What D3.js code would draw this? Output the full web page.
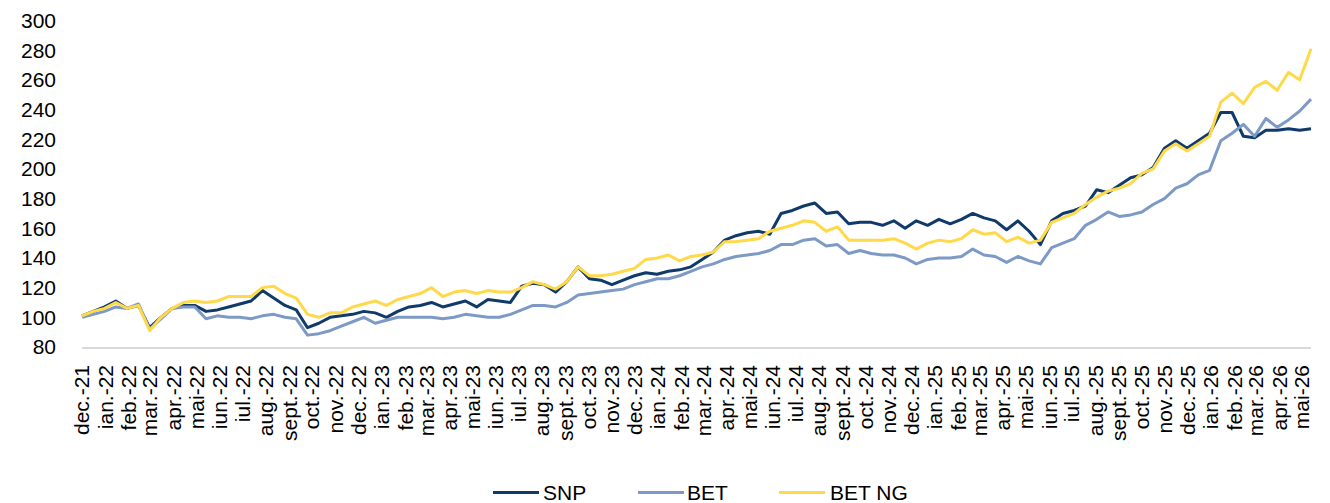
<!DOCTYPE html>
<html>
<head>
<meta charset="utf-8">
<script src="https://cdn.jsdelivr.net/npm/d3@7"></script>
<style>
  html, body { margin: 0; padding: 0; background: #fff; }
  svg { display: block; font-family: "Liberation Sans", Arial, sans-serif; }
</style>
</head>
<body>
<svg id="chart" width="1330" height="503"></svg>
<script>
// ---- data ----
const monthLabels = [
  "dec.-21",
  "ian.-22","feb.-22","mar.-22","apr.-22","mai-22","iun.-22","iul.-22","aug.-22","sept.-22","oct.-22","nov.-22","dec.-22",
  "ian.-23","feb.-23","mar.-23","apr.-23","mai-23","iun.-23","iul.-23","aug.-23","sept.-23","oct.-23","nov.-23","dec.-23",
  "ian.-24","feb.-24","mar.-24","apr.-24","mai-24","iun.-24","iul.-24","aug.-24","sept.-24","oct.-24","nov.-24","dec.-24",
  "ian.-25","feb.-25","mar.-25","apr.-25","mai-25","iun.-25","iul.-25","aug.-25","sept.-25","oct.-25","nov.-25","dec.-25",
  "ian.-26","feb.-26","mar.-26","apr.-26","mai-26"
];
const yTicks = [80,100,120,140,160,180,200,220,240,260,280,300];
const seriesNames = ["SNP","BET","BET NG"];
const startDate = "2021-12-01";
const endDate = "2026-05-13";

const snp = [
  101,104,107,111,106,108,93,100,106,108,
  108,104,105,107,109,111,118,113,108,105,
  93,96,100,101,102,104,103,100,104,107,
  108,110,107,109,111,107,112,111,110,121,
  123,122,117,124,134,126,125,122,125,128,
  130,129,131,132,134,139,144,152,155,157,
  158,156,170,172,175,177,170,171,163,164,
  164,162,165,160,165,162,166,163,166,170,
  167,165,159,165,158,149,165,170,172,175,
  186,184,189,194,196,201,214,219,214,219,
  224,238,238,222,221,226,226,227,226,227
];
const bet = [
  100,102,104,107,106,109,92,99,106,107,
  107,99,101,100,100,99,101,102,100,99,
  88,89,91,94,97,100,96,98,100,100,
  100,100,99,100,102,101,100,100,102,105,
  108,108,107,110,115,116,117,118,119,122,
  124,126,126,128,131,134,136,139,141,142,
  143,145,149,149,152,153,148,149,143,145,
  143,142,142,140,136,139,140,140,141,146,
  142,141,137,141,138,136,147,150,153,162,
  166,171,168,169,171,176,180,187,190,196,
  199,219,224,230,222,234,228,233,239,247
];
const betng = [
  101,104,106,110,106,108,91,100,106,110,
  111,110,111,114,114,114,120,121,116,113,
  102,100,103,103,107,109,111,108,112,114,
  116,120,114,117,118,116,118,117,117,120,
  124,122,119,124,134,128,128,129,131,133,
  139,140,142,138,141,142,144,151,151,152,
  153,158,160,162,165,164,158,161,152,152,
  152,152,153,150,146,150,152,151,153,159,
  156,157,151,154,150,152,164,167,170,176,
  181,185,187,190,197,200,212,217,212,217,
  222,245,251,244,255,259,253,265,260,281
];
const colors = ["#0f3a69", "#7d9ac6", "#ffd94a"];

// ---- build ----
const t0 = new Date(startDate + "T00:00:00Z");
const t1 = new Date(endDate + "T00:00:00Z");
const n = snp.length;
const stepMs = (t1 - t0) / (n - 1);
const dates = d3.range(n).map(i => new Date(t0.getTime() + i * stepMs));

const svg = d3.select("#chart");
const x = d3.scaleUtc().domain([t0, t1]).range([82, 1311]);
const y = d3.scaleLinear().domain([80, 300]).range([347, 20.5]);

// x axis line
svg.append("line")
  .attr("x1", x(t0)).attr("x2", x(t1))
  .attr("y1", 348).attr("y2", 348)
  .attr("stroke", "#d9d9d9").attr("stroke-width", 2);

// y tick labels
svg.append("g").selectAll("text").data(yTicks).join("text")
  .attr("x", 56).attr("y", d => y(d))
  .attr("dy", "0.35em")
  .attr("text-anchor", "end")
  .attr("font-size", 21)
  .attr("fill", "#000")
  .text(d => d);

// x tick labels
const tickDates = d3.utcMonth.range(t0, d3.utcDay.offset(t1, 1));
svg.append("g").selectAll("text").data(tickDates).join("text")
  .attr("transform", d => `translate(${x(d)},365) rotate(-90)`)
  .attr("dy", "0.35em")
  .attr("text-anchor", "end")
  .attr("font-size", 21)
  .attr("fill", "#000")
  .text((d, i) => monthLabels[i]);

// lines
const line = d3.line().x((d, i) => x(dates[i])).y(d => y(d));
[snp, bet, betng].forEach((s, i) => {
  svg.append("path")
    .datum(s)
    .attr("d", line)
    .attr("fill", "none")
    .attr("stroke", colors[i])
    .attr("stroke-width", 3)
    .attr("stroke-linejoin", "round");
});

// legend
const legendPos = [{lx: 493, tx: 543}, {lx: 638, tx: 687}, {lx: 779, tx: 830}];
const lg = svg.append("g");
seriesNames.forEach((name, i) => {
  lg.append("line")
    .attr("x1", legendPos[i].lx).attr("x2", legendPos[i].lx + 46)
    .attr("y1", 492.5).attr("y2", 492.5)
    .attr("stroke", colors[i]).attr("stroke-width", 3);
  lg.append("text")
    .attr("x", legendPos[i].tx).attr("y", 492.5)
    .attr("dy", "0.35em")
    .attr("font-size", 21)
    .attr("fill", "#000")
    .text(name);
});
</script>
</body>
</html>
